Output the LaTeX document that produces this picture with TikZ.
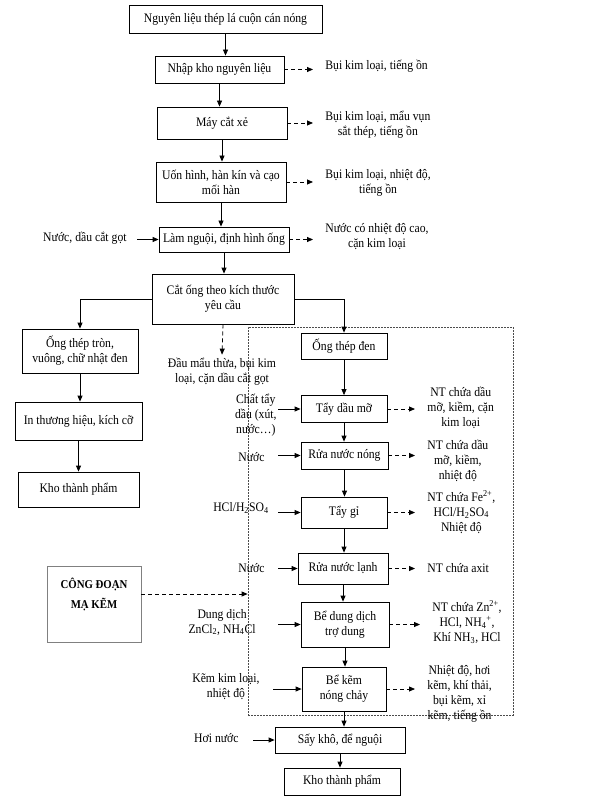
\documentclass[tikz,border=0pt]{standalone}
\usepackage{fontspec}
\setmainfont{Liberation Serif}[FakeStretch=0.9]
\usetikzlibrary{arrows.meta}

\begin{document}
\begin{tikzpicture}[x=1pt,y=-1pt,line width=0.8pt,font=\fontsize{13}{15}\selectfont,
	flow/.style={-{Triangle[length=6pt,width=5pt]}},
	waste/.style={flow,dash pattern=on 4pt off 3pt},
	wastelbl/.style={anchor=west,align=center,inner xsep=12pt},
	inlbl/.style={anchor=east,align=center,inner xsep=10pt}]

	\useasboundingbox[fill=white] (0,0) rectangle (599,799);

	\begin{scope}[every node/.style={draw,rectangle,align=center,inner sep=2pt}]
		\node[minimum width=193pt,minimum height=28pt] (raw) at (225.5,19) {Nguyên liệu thép lá cuộn cán nóng};
		\node[minimum width=129pt,minimum height=27pt] (store) at (219.5,69.5) {Nhập kho nguyên liệu};
		\node[minimum width=130pt,minimum height=32pt] (slit) at (222,123) {Máy cắt xẻ};
		\node[minimum width=130pt,minimum height=40pt] (weld) at (221,182) {Uốn hình, hàn kín và cạo\\mối hàn};
		\node[minimum width=130pt,minimum height=25pt] (cool) at (224,239.5) {Làm nguội, định hình ống};
		\node[minimum width=142pt,minimum height=50pt] (cut) at (223,299) {Cắt ống theo kích thước\\yêu cầu};

		\node[minimum width=116pt,minimum height=44pt] (shaped) at (80,351) {Ống thép tròn,\\vuông, chữ nhật đen};
		\node[minimum width=127pt,minimum height=38pt] (print) at (78.5,421) {In thương hiệu, kích cỡ};
		\node[minimum width=121pt,minimum height=35pt] (stockA) at (78.5,489.5) {Kho thành phẩm};

		\node[minimum width=86pt,minimum height=26pt] (black) at (344,346) {Ống thép đen};
		\node[minimum width=86pt,minimum height=27pt] (degrease) at (344,409) {Tẩy dầu mỡ};
		\node[minimum width=87pt,minimum height=27pt] (hotwash) at (344.5,455.5) {Rửa nước nóng};
		\node[minimum width=86pt,minimum height=31pt] (pickle) at (344,512.5) {Tẩy gỉ};
		\node[minimum width=90pt,minimum height=31pt] (coldwash) at (343,568.5) {Rửa nước lạnh};
		\node[minimum width=88pt,minimum height=45pt] (flux) at (345,624.5) {Bể dung dịch\\trợ dung};
		\node[minimum width=84pt,minimum height=44pt] (zinc) at (344,689) {Bể kẽm\\nóng chảy};
		\node[minimum width=130pt,minimum height=26pt] (dry) at (340,740) {Sấy khô, để nguội};
		\node[minimum width=116pt,minimum height=27pt] (stockB) at (342,781.5) {Kho thành phẩm};

		\node[draw=gray,minimum width=94pt,minimum height=76pt] (galv) at (94,604) {};
	\end{scope}

	\node[font=\bfseries\fontsize{12}{20}\selectfont,align=center] (galvtxt) at (94,594) {CÔNG ĐOẠN\\MẠ KẼM};

	% vung ma kem
	\node[draw=gray!60!black,dash pattern=on 2pt off 1pt,minimum width=265pt,minimum height=388pt] (zone) at (380.5,521) {};

	% chat thai
	\node[wastelbl] (dust1) at (313,66) {Bụi kim loại, tiếng ồn};
	\node[wastelbl] (dust2) at (313,125) {Bụi kim loại, mẩu vụn\\sắt thép, tiếng ồn};
	\node[wastelbl] (dust3) at (313,183) {Bụi kim loại, nhiệt độ,\\tiếng ồn};
	\node[wastelbl] (hotwater) at (313,237) {Nước có nhiệt độ cao,\\cặn kim loại};
	\node[align=center] (scrap) at (222,372) {Đầu mẩu thừa, bụi kim\\loại, cặn dầu cắt gọt};
	\node[wastelbl] (ww1) at (415,408) {NT chứa dầu\\mỡ, kiềm, cặn\\kim loại};
	\node[wastelbl] (ww2) at (415,461) {NT chứa dầu\\mỡ, kiềm,\\nhiệt độ};
	\node[wastelbl] (ww3) at (415,512) {NT chứa Fe\textsuperscript{2+},\\HCl/H\textsubscript{2}SO\textsubscript{4}\\Nhiệt độ};
	\node[wastelbl] (ww4) at (415,568) {NT chứa axit};
	\node[wastelbl] (ww5) at (420,622) {NT chứa Zn\textsuperscript{2+},\\HCl, NH\textsubscript{4}\textsuperscript{+},\\Khí NH\textsubscript{3}, HCl};
	\node[wastelbl] (ww6) at (415,694) {Nhiệt độ, hơi\\kẽm, khí thải,\\bụi kẽm, xỉ\\kẽm, tiếng ồn};

	% dau vao
	\node[inlbl] (oil) at (137,238) {Nước, dầu cắt gọt};
	\node[inlbl,inner xsep=1pt] (soda) at (278,415) {Chất tẩy\\dầu (xút,\\nước…)};
	\node[inlbl,inner xsep=13pt] (water1) at (278,457) {Nước};
	\node[inlbl,inner xsep=9pt] (acid) at (278,508) {HCl/H\textsubscript{2}SO\textsubscript{4}};
	\node[inlbl,inner xsep=13pt] (water2) at (278,568) {Nước};
	\node[inlbl,inner xsep=22pt] (fluxin) at (278,622) {Dung dịch\\ZnCl\textsubscript{2}, NH\textsubscript{4}Cl};
	\node[inlbl,inner xsep=13pt] (zincin) at (273,687) {Kẽm kim loại,\\nhiệt độ};
	\node[inlbl,inner xsep=14pt] (steam) at (253,738) {Hơi nước};

	% duong chinh
	\draw[flow] (raw) -- (raw |- store.north);
	\draw[flow] (store) -- (store |- slit.north);
	\draw[flow] (slit) -- (slit |- weld.north);
	\draw[flow] (weld) -- (weld |- cool.north);
	\draw[flow] (cool) -- (cool |- cut.north);
	\draw[flow] (cut.west) -| (shaped.north);
	\draw[flow] (shaped) -- (shaped |- print.north);
	\draw[flow] (print) -- (print |- stockA.north);
	\draw[flow] (cut.east) -| (black.north);
	\draw[flow] (black) -- (black |- degrease.north);
	\draw[flow] (degrease) -- (degrease |- hotwash.north);
	\draw[flow] (hotwash) -- (hotwash |- pickle.north);
	\draw[flow] (pickle) -- (pickle |- coldwash.north);
	\draw[flow] (coldwash) -- (coldwash |- flux.north);
	\draw[flow] (flux) -- (flux |- zinc.north);
	\draw[flow] (zinc) -- (zinc |- dry.north);
	\draw[flow] (dry) -- (dry |- stockB.north);

	% dau vao
	\draw[flow] (oil.east |- cool.west) -- (cool.west);
	\draw[flow] (soda.east |- degrease.west) -- (degrease.west);
	\draw[flow] (water1.east |- hotwash.west) -- (hotwash.west);
	\draw[flow] (acid.east |- pickle.west) -- (pickle.west);
	\draw[flow] (water2.east |- coldwash.west) -- (coldwash.west);
	\draw[flow] (fluxin.east |- flux.west) -- (flux.west);
	\draw[flow] (zincin.east |- zinc.west) -- (zinc.west);
	\draw[flow] (steam.east |- dry.west) -- (dry.west);

	% chat thai
	\draw[waste] (store.east) -- (store.east -| dust1.west);
	\draw[waste] (slit.east) -- (slit.east -| dust2.west);
	\draw[waste] (weld.east) -- (weld.east -| dust3.west);
	\draw[waste] (cool.east) -- (cool.east -| hotwater.west);
	\draw[waste] (cut.south) -- (scrap.north);
	\draw[waste] (degrease.east) -- (degrease.east -| ww1.west);
	\draw[waste] (hotwash.east) -- (hotwash.east -| ww2.west);
	\draw[waste] (pickle.east) -- (pickle.east -| ww3.west);
	\draw[waste] (coldwash.east) -- (coldwash.east -| ww4.west);
	\draw[waste] (flux.east) -- (flux.east -| ww5.west);
	\draw[waste] (zinc.east) -- (zinc.east -| ww6.west);
	\draw[waste] (galv.east |- galvtxt) -- (zone.west |- galvtxt);

\end{tikzpicture}
\end{document}
